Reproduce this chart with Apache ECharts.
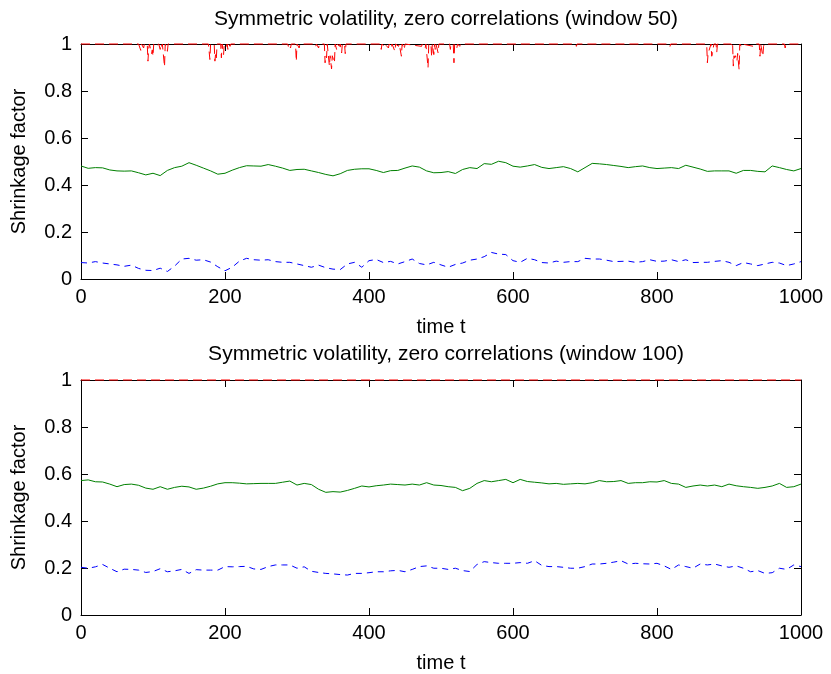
<!DOCTYPE html>
<html>
<head>
<meta charset="utf-8">
<script src="https://cdn.jsdelivr.net/npm/echarts@6/dist/echarts.min.js"></script>
<style>
html,body{margin:0;padding:0;background:#fff;}
#chart{width:831px;height:674px;}
</style>
</head>
<body>
<div id="chart"></div>
<script>
// time sample positions (every 10 steps)
var timeSteps = [0,10,20,30,40,50,60,70,80,90,100,110,120,130,140,150,160,170,180,190,200,210,220,230,240,250,260,270,280,290,300,310,320,330,340,350,360,370,380,390,400,410,420,430,440,450,460,470,480,490,500,510,520,530,540,550,560,570,580,590,600,610,620,630,640,650,660,670,680,690,700,710,720,730,740,750,760,770,780,790,800,810,820,830,840,850,860,870,880,890,900,910,920,930,940,950,960,970,980,990,1000];

// window 50
var greenTop = [0.481,0.471,0.474,0.473,0.464,0.460,0.459,0.460,0.452,0.443,
0.450,0.440,0.462,0.474,0.480,0.495,0.484,0.472,0.460,0.446,
0.450,0.463,0.474,0.482,0.481,0.480,0.487,0.480,0.472,0.462,
0.466,0.467,0.460,0.453,0.445,0.439,0.448,0.462,0.467,0.469,
0.469,0.462,0.453,0.461,0.462,0.472,0.481,0.476,0.460,0.452,
0.453,0.457,0.449,0.466,0.474,0.470,0.491,0.488,0.501,0.495,
0.480,0.476,0.481,0.487,0.475,0.470,0.474,0.478,0.470,0.456,
0.474,0.492,0.490,0.487,0.483,0.479,0.474,0.478,0.481,0.474,
0.470,0.472,0.474,0.470,0.484,0.476,0.468,0.458,0.460,0.460,
0.460,0.450,0.462,0.462,0.458,0.456,0.481,0.474,0.466,0.460,
0.470];

var blueTop = [0.070,0.068,0.074,0.068,0.064,0.060,0.054,0.059,0.045,0.037,
0.036,0.046,0.032,0.055,0.085,0.088,0.080,0.082,0.072,0.052,
0.035,0.050,0.076,0.088,0.082,0.080,0.082,0.074,0.071,0.071,
0.064,0.057,0.050,0.059,0.048,0.042,0.040,0.064,0.071,0.050,
0.078,0.083,0.070,0.075,0.064,0.074,0.085,0.066,0.060,0.071,
0.060,0.050,0.062,0.068,0.080,0.085,0.095,0.113,0.106,0.104,
0.078,0.071,0.088,0.082,0.070,0.068,0.076,0.071,0.074,0.074,
0.088,0.085,0.085,0.080,0.074,0.075,0.076,0.071,0.074,0.082,
0.075,0.076,0.082,0.074,0.082,0.070,0.071,0.071,0.075,0.078,
0.071,0.057,0.070,0.064,0.057,0.064,0.071,0.068,0.057,0.064,
0.074];

var redTopT = [0,80,83,84,86,87,88,92,93,94,95,97,98,99,100,101,104,106,108,110,111,112,113,115,116,117,120,121,
177,179,180,185,186,187,188,189,194,195,196,197,198,199,202,203,204,205,207,208,
287,288,289,291,292,298,299,300,303,304,325,326,327,330,331,338,339,340,341,342,344,345,346,348,349,352,353,355,356,359,360,362,363,366,367,368,
416,417,418,421,422,427,428,431,432,436,437,441,442,445,446,449,450,473,474,478,479,481,482,483,486,487,488,490,491,492,493,496,497,
512,513,514,517,518,519,522,523,526,527,687,688,689,817,818,819,
869,870,871,875,876,877,878,879,882,883,884,903,904,905,906,907,908,909,911,912,914,915,917,918,934,935,942,943,944,946,947,948,949,977,978,979,1000];
var redTopV = [1,1,0.973,1,1,0.983,1,1,0.927,0.98,1,1,0.959,0.975,0.948,1,0.991,0.983,1,0.977,1,0.99,1,1,0.903,1,0.969,1,
1,0.934,1,1,0.927,0.96,0.941,1,1,0.941,1,1,0.955,1,0.99,1,0.977,1,0.99,1,
1,0.99,1,0.983,1,1,0.927,1,0.983,1,1,0.99,1,0.983,1,1,0.920,0.95,0.941,1,1,0.906,0.95,0.894,0.95,0.920,1,0.977,1,0.99,1,0.962,1,1,0.959,1,
1,0.977,1,0.99,1,0.983,1,0.983,1,0.969,1,0.99,1,0.948,1,0.977,1,0.99,1,0.983,1,1,0.899,1,1,0.945,1,0.955,1,0.977,1,0.962,1,
1,0.977,1,1,0.920,1,0.983,1,0.99,1,1,0.99,1,1,0.99,1,
1,0.920,0.96,1,0.948,0.96,0.962,1,1,0.965,1,1,0.99,1,0.906,0.95,0.941,0.95,0.927,0.96,0.892,1,0.99,1,0.99,1,1,0.948,1,1,0.948,0.99,1,1,0.983,1,1];

// window 100
var greenBottom = [0.572,0.575,0.567,0.566,0.557,0.546,0.555,0.557,0.552,0.540,
0.535,0.546,0.535,0.543,0.548,0.545,0.535,0.540,0.548,0.558,
0.563,0.563,0.561,0.558,0.559,0.560,0.560,0.560,0.565,0.570,
0.553,0.560,0.555,0.535,0.522,0.525,0.523,0.530,0.539,0.549,
0.545,0.550,0.553,0.557,0.555,0.553,0.557,0.553,0.563,0.553,
0.551,0.546,0.543,0.529,0.539,0.560,0.572,0.567,0.572,0.577,
0.563,0.577,0.568,0.565,0.562,0.558,0.560,0.556,0.558,0.560,
0.558,0.563,0.572,0.567,0.568,0.572,0.560,0.563,0.563,0.567,
0.566,0.572,0.560,0.557,0.543,0.549,0.553,0.549,0.553,0.546,
0.557,0.550,0.546,0.543,0.539,0.543,0.549,0.560,0.543,0.546,
0.557];

var blueBottom = [0.203,0.199,0.205,0.215,0.199,0.184,0.195,0.194,0.191,0.181,
0.185,0.197,0.184,0.188,0.194,0.177,0.193,0.191,0.191,0.191,
0.206,0.205,0.206,0.207,0.196,0.194,0.206,0.213,0.213,0.213,
0.199,0.205,0.186,0.181,0.177,0.175,0.172,0.170,0.177,0.177,
0.180,0.184,0.184,0.188,0.190,0.184,0.194,0.206,0.209,0.199,
0.199,0.194,0.199,0.189,0.185,0.215,0.227,0.223,0.220,0.220,
0.220,0.223,0.220,0.231,0.211,0.206,0.206,0.203,0.199,0.199,
0.206,0.217,0.217,0.220,0.225,0.231,0.217,0.220,0.218,0.217,
0.220,0.209,0.194,0.213,0.206,0.199,0.217,0.213,0.217,0.209,
0.203,0.209,0.199,0.184,0.189,0.177,0.180,0.199,0.194,0.213,
0.206];

var redBottomT = [0,1000];
var redBottomV = [1,1];

var titles = ['Symmetric volatility, zero correlations (window 50)', 'Symmetric volatility, zero correlations (window 100)'];
var xTitle = 'time t';
var yTitle = 'Shrinkage factor';

function zip(t, v){ var out=[]; for (var i=0;i<t.length;i++) out.push([t[i], v[i]]); return out; }

var FONT = 'Liberation Sans';
var tickFs = 20;

function xAx(gi, pos, labels){
  return {
    type:'value', gridIndex:gi, position:pos, min:0, max:1000, interval:200,
    name: labels ? xTitle : '', nameLocation:'middle', nameGap:38,
    nameTextStyle:{fontFamily:FONT, fontSize:tickFs, color:'#000'},
    axisLine:{show:true, onZero:false, lineStyle:{color:'#000', width:1}},
    axisTick:{show:true, inside:true, length:7, lineStyle:{color:'#000'}},
    axisLabel:{show:labels, fontFamily:FONT, fontSize:tickFs, color:'#000', margin:8,
      formatter:function(v){ return String(v); }},
    splitLine:{show:false}
  };
}
function yAx(gi, pos, labels){
  return {
    type:'value', gridIndex:gi, position:pos, min:0, max:1, interval:0.2,
    name: labels ? yTitle : '', nameLocation:'middle', nameGap:52,
    nameTextStyle:{fontFamily:FONT, fontSize:tickFs, color:'#000'},
    axisLine:{show:true, onZero:false, lineStyle:{color:'#000', width:1}},
    axisTick:{show:true, inside:true, length:7, lineStyle:{color:'#000'}},
    axisLabel:{show:labels, fontFamily:FONT, fontSize:tickFs, color:'#000', margin:9},
    splitLine:{show:false}
  };
}
function ser(xi, yi, data, color, dash){
  return {
    type:'line', xAxisIndex:xi, yAxisIndex:yi, data:data, showSymbol:false, symbol:'none',
    clip:false, animation:false, silent:true,
    lineStyle:{color:color, width:1, type: dash ? dash : 'solid'}
  };
}

var chart = echarts.init(document.getElementById('chart'), null, {renderer:'canvas'});
chart.setOption({
  backgroundColor:'#fff',
  animation:false,
  title:[
    {text:titles[0], left:441, top:4, textAlign:'center', textStyle:{fontFamily:FONT, fontSize:21, fontWeight:'normal', color:'#000'}},
    {text:titles[1], left:441, top:339, textAlign:'center', textStyle:{fontFamily:FONT, fontSize:21, fontWeight:'normal', color:'#000'}}
  ],
  grid:[
    {left:81, top:44, width:720, height:235},
    {left:81, top:380, width:720, height:235}
  ],
  xAxis:[xAx(0,'bottom',true), xAx(0,'top',false), xAx(1,'bottom',true), xAx(1,'top',false)],
  yAxis:[yAx(0,'left',true), yAx(0,'right',false), yAx(1,'left',true), yAx(1,'right',false)],
  series:[
    ser(0,0, zip(redTopT, redTopV), '#ff0000', [9,5]),
    ser(0,0, zip(timeSteps, greenTop), '#008000', null),
    ser(0,0, zip(timeSteps, blueTop), '#0000ff', [6,5]),
    ser(2,2, zip(redBottomT, redBottomV), '#ff0000', [9,5]),
    ser(2,2, zip(timeSteps, greenBottom), '#008000', null),
    ser(2,2, zip(timeSteps, blueBottom), '#0000ff', [6,5])
  ]
});
</script>
</body>
</html>
